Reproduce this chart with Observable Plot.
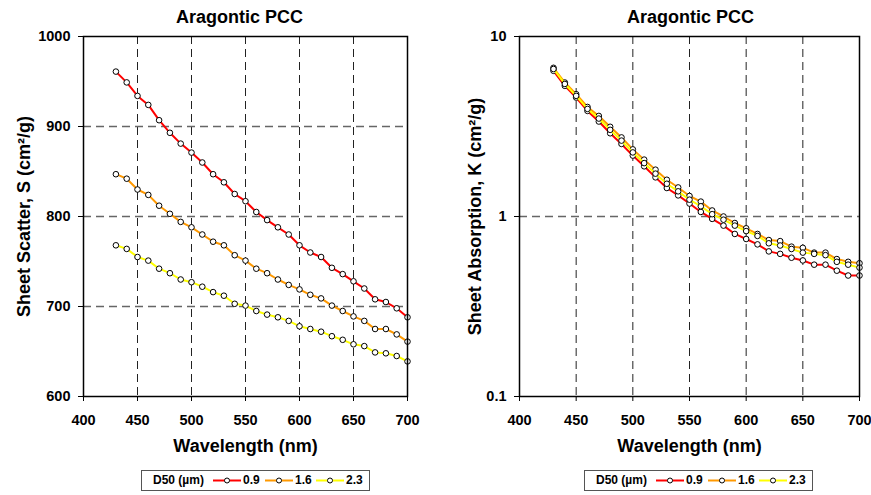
<!DOCTYPE html>
<html><head><meta charset="utf-8">
<script src="https://cdn.jsdelivr.net/npm/d3@7"></script>
<script src="https://cdn.jsdelivr.net/npm/@observablehq/plot@0.6"></script>
<style>
html,body{margin:0;padding:0;background:#fff;}
#wrap{position:relative;width:871px;height:495px;overflow:hidden;font-family:"Liberation Sans",Arial,Helvetica,sans-serif;background:#fff;}
.plot{position:absolute;top:0;}
.legend{position:absolute;top:470px;height:19px;width:227px;border:1px solid #555;background:#fff;}
.legend .t{position:absolute;top:0;font-size:12px;font-weight:bold;line-height:19px;white-space:nowrap;color:#000;}
.legend svg{position:absolute;top:5px;}
</style>
</head><body>
<div id="wrap"></div>
<script>
const wavelength = [430,440,450,460,470,480,490,500,510,520,530,540,550,560,570,580,590,600,610,620,630,640,650,660,670,680,690,700];
const d50Labels = ["0.9","1.6","2.3"];
const seriesColors = ["#FF0000","#FF9900","#FFFF00"];

const scatter09 = [961,949,934,924,907,893,881,871,860,847,838,825,817,805,796,788,780,768,760,755,743,736,728,720,708,705,698,688];
const scatter16 = [847,842,830,824,812,803,794,788,780,772,768,757,751,742,737,730,724,719,713,709,701,695,689,684,675,675,669,661];
const scatter23 = [768,764,755,751,742,737,730,727,722,716,712,703,701,695,691,688,684,678,675,672,667,663,658,656,649,648,645,639];

const absorb09 = [6.45,5.32,4.58,3.86,3.37,2.90,2.53,2.18,1.90,1.65,1.44,1.31,1.18,1.06,0.97,0.89,0.80,0.75,0.70,0.64,0.62,0.59,0.57,0.54,0.54,0.50,0.47,0.47];
const absorb16 = [6.70,5.55,4.78,4.06,3.62,3.15,2.75,2.36,2.07,1.82,1.60,1.45,1.30,1.21,1.08,1.00,0.92,0.86,0.80,0.74,0.73,0.68,0.67,0.63,0.63,0.58,0.56,0.55];
const absorb23 = [6.60,5.45,4.68,3.96,3.50,3.03,2.64,2.27,1.98,1.73,1.52,1.38,1.24,1.14,1.03,0.96,0.89,0.83,0.78,0.71,0.69,0.66,0.63,0.62,0.61,0.56,0.54,0.52];

const xTicks = [400,450,500,550,600,650,700];
const scatterTicks = [600,700,800,900,1000];
const absorbTicks = [0.1,1,10];
const titleText = "Aragontic PCC";
const xLabel = "Wavelength (nm)";
const scatterLabel = "Sheet Scatter, S (cm\u00B2/g)";
const absorbLabel = "Sheet Absorption, K (cm\u00B2/g)";
const legendTitle = "D50 (\u00B5m)";

const font = "Liberation Sans, Arial, Helvetica, sans-serif";

function rows(values, label) {
  return wavelength.map((w, i) => ({w, v: values[i], d50: label}));
}
function seriesMarks(list) {
  const marks = [];
  list.forEach((vals, i) => {
    const data = rows(vals, d50Labels[i]);
    marks.push(Plot.line(data, {x: "w", y: "v", stroke: seriesColors[i], strokeWidth: 2}));
    marks.push(Plot.dot(data, {x: "w", y: "v", r: 2.8, fill: "white", stroke: "black", strokeWidth: 1}));
  });
  return marks;
}
function common(yLabel, yLabelDx, titleDx) {
  return [
    Plot.frame({stroke: "black", strokeWidth: 1.5}),
    Plot.axisX({ticks: xTicks, tickSize: 5, tickPadding: 13, fontSize: 14.5, fontWeight: "bold", label: null, tickFormat: d => String(d)}),
    Plot.text([titleText], {text: d => d, frameAnchor: "top", dy: -19.5, dx: titleDx, fontSize: 18, fontWeight: "bold", textAnchor: "middle", lineAnchor: "middle"}),
    Plot.text([xLabel], {text: d => d, frameAnchor: "bottom", dy: 50, fontSize: 18, fontWeight: "bold", textAnchor: "middle", lineAnchor: "middle"}),
    Plot.text([yLabel], {text: d => d, frameAnchor: "left", dx: yLabelDx, rotate: -90, fontSize: 18, fontWeight: "bold", textAnchor: "middle", lineAnchor: "middle"})
  ];
}

const p1 = Plot.plot({
  width: 430, height: 460,
  marginLeft: 83, marginRight: 23, marginTop: 36, marginBottom: 64,
  style: {fontFamily: font, background: "transparent", color: "black", overflow: "visible"},
  x: {domain: [400, 700]},
  y: {domain: [600, 1000]},
  marks: [
    Plot.ruleX(xTicks.slice(1, -1), {stroke: "#222", strokeWidth: 1, strokeDasharray: "8,5"}),
    Plot.ruleY(scatterTicks.slice(1, -1), {stroke: "#666", strokeWidth: 1.4, strokeDasharray: "8,5"}),
    ...seriesMarks([scatter09, scatter16, scatter23]),
    Plot.axisY({ticks: scatterTicks, tickSize: 5, tickPadding: 8, fontSize: 14.5, fontWeight: "bold", label: null, tickFormat: d => String(d)}),
    ...common(scatterLabel, -59.3, -6)
  ]
});

const p2 = Plot.plot({
  width: 441, height: 460,
  marginLeft: 89, marginRight: 12, marginTop: 36, marginBottom: 64,
  style: {fontFamily: font, background: "transparent", color: "black", overflow: "visible"},
  x: {domain: [400, 700]},
  y: {type: "log", domain: [0.1, 10]},
  marks: [
    Plot.ruleX(xTicks.slice(1, -1), {stroke: "#222", strokeWidth: 1, strokeDasharray: "8,5"}),
    Plot.ruleY([1], {stroke: "#666", strokeWidth: 1.4, strokeDasharray: "8,5"}),
    ...seriesMarks([absorb09, absorb16, absorb23]),
    Plot.axisY({ticks: absorbTicks, tickSize: 5, tickPadding: 8, fontSize: 14.5, fontWeight: "bold", label: null, tickFormat: d => String(d)}),
    ...common(absorbLabel, -44.3, 1)
  ]
});

const wrap = document.getElementById("wrap");
p1.classList.add("plot"); p1.style.left = "0px";
p2.classList.add("plot"); p2.style.left = "430px";
wrap.appendChild(p1);
wrap.appendChild(p2);

function legend(left) {
  const box = document.createElement("div");
  box.className = "legend";
  box.style.left = left + "px";
  const t = document.createElement("span");
  t.className = "t"; t.textContent = legendTitle; t.style.left = "11px";
  box.appendChild(t);
  const swatchX = [71, 123, 174];
  d50Labels.forEach((lab, i) => {
    const ns = "http://www.w3.org/2000/svg";
    const s = document.createElementNS(ns, "svg");
    s.setAttribute("width", 28); s.setAttribute("height", 9);
    s.style.left = swatchX[i] + "px";
    const ln = document.createElementNS(ns, "line");
    ln.setAttribute("x1", 0); ln.setAttribute("x2", 28); ln.setAttribute("y1", 4.5); ln.setAttribute("y2", 4.5);
    ln.setAttribute("stroke", seriesColors[i]); ln.setAttribute("stroke-width", 2);
    const c = document.createElementNS(ns, "circle");
    c.setAttribute("cx", 14); c.setAttribute("cy", 4.5); c.setAttribute("r", 2.5);
    c.setAttribute("fill", "white"); c.setAttribute("stroke", "black"); c.setAttribute("stroke-width", 1);
    s.appendChild(ln); s.appendChild(c);
    box.appendChild(s);
    const l = document.createElement("span");
    l.className = "t"; l.textContent = lab; l.style.left = (swatchX[i] + 30) + "px";
    box.appendChild(l);
  });
  wrap.appendChild(box);
}
legend(141);
legend(584);
</script>
</body></html>
